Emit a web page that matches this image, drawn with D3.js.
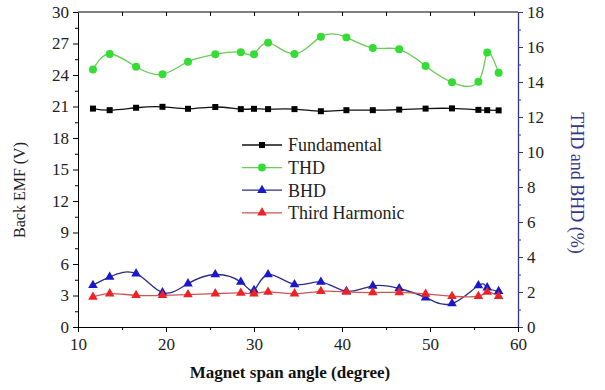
<!DOCTYPE html>
<html>
<head>
<meta charset="utf-8">
<script src="https://cdn.jsdelivr.net/npm/d3@7"></script>
<style>
  body { margin: 0; background: #fff; }
</style>
</head>
<body>
<script>
// values
var angles = [11.7, 13.6, 16.6, 19.6, 22.5, 25.6, 28.5, 30.0, 31.6, 34.6, 37.6, 40.5, 43.5, 46.5, 49.5, 52.5, 55.5, 56.5, 57.8];
var fundamental = [20.8, 20.65, 20.88, 20.97, 20.78, 20.95, 20.75, 20.78, 20.75, 20.75, 20.55, 20.65, 20.65, 20.7, 20.8, 20.82, 20.68, 20.65, 20.63];
var thd = [14.72, 15.6, 14.87, 14.44, 15.16, 15.58, 15.7, 15.58, 16.25, 15.6, 16.59, 16.55, 15.94, 15.87, 14.92, 13.98, 14.02, 15.68, 14.53];
var bhd = [2.39, 2.86, 3.05, 1.97, 2.48, 3.0, 2.57, 2.1, 3.0, 2.43, 2.57, 2.04, 2.35, 2.2, 1.68, 1.34, 2.37, 2.25, 2.04];
var third = [2.86, 3.18, 3.02, 3.02, 3.09, 3.18, 3.24, 3.18, 3.34, 3.18, 3.4, 3.34, 3.28, 3.3, 3.15, 2.93, 2.93, 3.34, 2.93];

var xTicks = [10, 20, 30, 40, 50, 60];
var yLeftTicks = d3.range(0, 31, 3);
var yRightTicks = d3.range(0, 19, 2);

var width = 605, height = 390;
var m = { left: 78, right: 87, top: 12, bottom: 63 };
var navy = "#34348c";
var serif = "'Liberation Serif', 'Times New Roman', Times, 'DejaVu Serif', serif";

var svg = d3.select("body").append("svg")
  .attr("width", width)
  .attr("height", height)
  .attr("font-family", serif);

var x = d3.scaleLinear().domain([10, 60]).range([m.left, width - m.right]);
var yL = d3.scaleLinear().domain([0, 30]).range([height - m.bottom, m.top]);
var yR = d3.scaleLinear().domain([0, 18]).range([height - m.bottom, m.top]);

///axes
var fs = "17px";

// minor ticks first
svg.append("g").attr("transform", "translate(" + m.left + ",0)")
  .call(d3.axisLeft(yL).tickValues(d3.range(1.5, 30, 3)).tickSize(3).tickFormat(""))
  .call(g => g.select(".domain").remove());
svg.append("g").attr("transform", "translate(" + (width - m.right) + ",0)")
  .call(d3.axisRight(yR).tickValues(d3.range(1, 18, 2)).tickSize(3).tickFormat(""))
  .call(g => g.select(".domain").remove())
  .selectAll("line").attr("stroke", navy);
svg.append("g").attr("transform", "translate(0," + (height - m.bottom) + ")")
  .call(d3.axisBottom(x).tickValues([15, 25, 35, 45, 55]).tickSize(3).tickFormat(""))
  .call(g => g.select(".domain").remove());
svg.append("g").attr("transform", "translate(0," + m.top + ")")
  .call(d3.axisBottom(x).tickValues(d3.range(15, 60, 5)).tickSize(4).tickFormat(""))
  .call(g => g.select(".domain").remove());

var gl = svg.append("g").attr("transform", "translate(" + m.left + ",0)")
  .call(d3.axisLeft(yL).tickValues(yLeftTicks).tickSize(5).tickPadding(4).tickSizeOuter(0));

var gr = svg.append("g").attr("transform", "translate(" + (width - m.right) + ",0)")
  .call(d3.axisRight(yR).tickValues(yRightTicks).tickSize(5).tickPadding(4).tickSizeOuter(0));
gr.selectAll("line").attr("stroke", navy);
gr.select(".domain").attr("stroke", navy).attr("stroke-width", 1.3);

var gb = svg.append("g").attr("transform", "translate(0," + (height - m.bottom) + ")")
  .call(d3.axisBottom(x).tickValues(xTicks).tickSize(5).tickPadding(6).tickSizeOuter(0));

[gl, gr, gb].forEach(g => {
  g.attr("font-family", serif);
  g.selectAll("text").style("font-size", fs).style("font-family", serif).attr("fill", "#222");
});

// top frame line
svg.append("line")
  .attr("x1", m.left).attr("x2", width - m.right)
  .attr("y1", m.top).attr("y2", m.top)
  .attr("stroke", "#000");

// axis titles
svg.append("text")
  .attr("transform", "translate(25," + 190 + ") rotate(-90)")
  .style("text-anchor", "middle")
  .style("font-size", "16px")
  .style("font-family", serif)
  .attr("fill", "#222")
  .text("Back EMF (V)");

svg.append("text")
  .attr("transform", "translate(571," + 183 + ") rotate(90)")
  .style("text-anchor", "middle")
  .style("font-size", "18px")
  .style("font-family", serif)
  .attr("fill", navy)
  .text("THD and BHD (%)");

svg.append("text")
  .attr("x", 290).attr("y", 378)
  .style("text-anchor", "middle")
  .style("font-size", "17px")
  .style("font-weight", "bold")
  .style("font-family", serif)
  .attr("fill", "#111")
  .text("Magnet span angle (degree)");

///series
var series = [
  { name: "Fundamental", values: fundamental, y: yL, line: "#111", mark: "#000", sym: d3.symbolSquare, size: 36 },
  { name: "THD", values: thd, y: yR, line: "#6acb55", mark: "#33dd33", sym: d3.symbolCircle, size: 50 },
  { name: "BHD", values: bhd, y: yR, line: "#2c2c88", mark: "#1818cc", sym: d3.symbolTriangle, size: 40 },
  { name: "Third Harmonic", values: third, y: yL, line: "#cc5555", mark: "#ee2222", sym: d3.symbolTriangle, size: 40 }
];

series.forEach(s => {
  var line = d3.line()
    .curve(d3.curveNatural)
    .x((d, i) => x(angles[i]))
    .y(d => s.y(d));

  svg.append("path")
    .attr("d", line(s.values))
    .attr("fill", "none")
    .attr("stroke", s.line)
    .attr("stroke-width", 1.3);

  svg.append("g").selectAll("path")
    .data(s.values)
    .enter().append("path")
    .attr("d", d3.symbol().type(s.sym).size(s.size))
    .attr("transform", (d, i) => "translate(" + x(angles[i]) + "," + s.y(d) + ")")
    .attr("fill", s.mark);
});

///legend
var lg = svg.append("g").attr("transform", "translate(242,145)");
series.forEach((s, i) => {
  var r = lg.append("g").attr("transform", "translate(0," + (i * 22.6) + ")");
  r.append("line").attr("x1", 0).attr("x2", 40).attr("stroke", s.line).attr("stroke-width", 1.3);
  r.append("path").attr("d", d3.symbol().type(s.sym).size(s.size)).attr("transform", "translate(20,0)").attr("fill", s.mark);
  r.append("text").attr("x", 46).attr("dy", "0.35em")
    .style("font-size", "18px").style("font-family", serif).attr("fill", "#222")
    .text(s.name);
});
</script>
</body>
</html>
